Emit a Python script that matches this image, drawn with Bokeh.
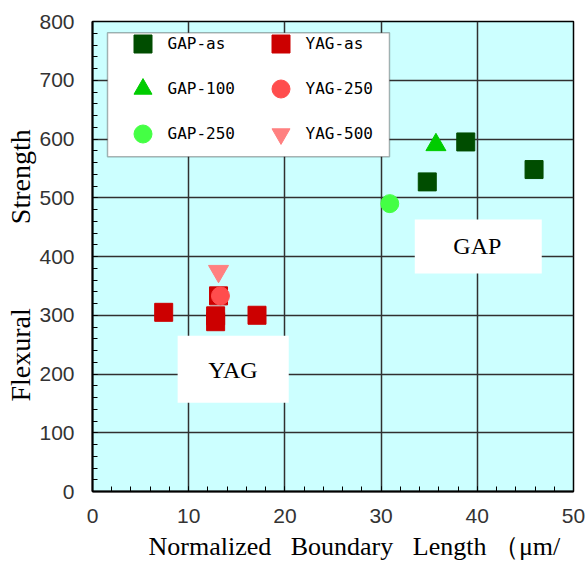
from bokeh.plotting import figure
from bokeh.models import (Range1d, BoxAnnotation, Label, Legend, LegendItem,
                          SingleIntervalTicker, Title)
from bokeh.embed import file_html
from bokeh.resources import INLINE

# ---- data ----
gap_as_x = [34.8, 38.8, 45.9]
gap_as_y = [527, 595, 548]
gap100_x = [35.7]
gap100_y = [590]
gap250_x = [30.9]
gap250_y = [490]
yag_as_x = [7.4, 12.8, 12.8, 17.1, 13.1]
yag_as_y = [305, 299, 289, 300, 333]
yag250_x = [13.3]
yag250_y = [333]
yag500_x = [13.1]
yag500_y = [375]

x_ticks = [0, 10, 20, 30, 40, 50]
y_ticks = [0, 100, 200, 300, 400, 500, 600, 700, 800]

NB = "\u00a0"
x_title = "Normalized" + NB * 3 + "Boundary" + NB * 3 + "Length" + NB + "（μm/"
y_title = "Flexural" + NB * 12 + "Strength"

p = figure(width=586, height=571, output_backend="svg", toolbar_location=None,
           x_range=Range1d(0, 50), y_range=Range1d(0, 800),
           min_border_left=92, min_border_right=13, min_border_top=21,
           min_border_bottom=80)
p.background_fill_color = "#ccffff"
p.border_fill_color = "white"
p.outline_line_color = "black"
p.outline_line_width = 1.5

for ax, tk in ((p.xaxis[0], x_ticks), (p.yaxis[0], y_ticks)):
    ax.ticker = SingleIntervalTicker(interval=tk[1] - tk[0], num_minor_ticks=5)
    ax.axis_line_color = "black"
    ax.axis_line_width = 2
    ax.major_tick_in = 5
    ax.major_tick_out = 0
    ax.minor_tick_in = 5
    ax.minor_tick_out = 0
    ax.major_tick_line_color = "black"
    ax.minor_tick_line_color = "black"
    ax.major_label_text_font = "Liberation Sans"
    ax.major_label_text_font_size = "21px"
    ax.major_label_text_color = "#333333"
p.xaxis.major_label_standoff = 17
p.yaxis.major_label_standoff = 18

p.grid.grid_line_color = "#303030"
p.grid.grid_line_width = 1.5

# ---- data glyphs ----
r_gap_as = p.scatter(gap_as_x, gap_as_y, marker="square", size=18,
                     fill_color="#004d00", line_color="#004d00")
r_gap100 = p.scatter(gap100_x, gap100_y, marker="triangle", size=20,
                     fill_color="#00cc00", line_color="#00cc00")
r_gap250 = p.scatter(gap250_x, gap250_y, marker="circle", size=18,
                     fill_color="#44ff44", line_color="#44ff44")
r_yag_as = p.scatter(yag_as_x, yag_as_y, marker="square", size=18,
                     fill_color="#cc0000", line_color="#cc0000")
r_yag250 = p.scatter(yag250_x, yag250_y, marker="circle", size=18,
                     fill_color="#ff4d4d", line_color="#ff4d4d")
r_yag500 = p.scatter(yag500_x, yag500_y, marker="inverted_triangle", size=20,
                     fill_color="#ff8080", line_color="#ff8080")

# ---- text boxes ----
p.add_layout(BoxAnnotation(left=8.85, right=20.4, bottom=151, top=265,
                           fill_color="white", fill_alpha=1, line_alpha=0))
p.add_layout(BoxAnnotation(left=33.5, right=46.7, bottom=371, top=463,
                           fill_color="white", fill_alpha=1, line_alpha=0))
p.add_layout(Label(x=14.6, y=207, text="YAG", text_font="Liberation Serif",
                   text_font_size="24px", text_align="center",
                   text_baseline="middle", text_color="black"))
p.add_layout(Label(x=40.0, y=418, text="GAP", text_font="Liberation Serif",
                   text_font_size="24px", text_align="center",
                   text_baseline="middle", text_color="black"))

# ---- legend ----
p.add_layout(BoxAnnotation(left=1.56, right=30.87, bottom=570, top=781,
                           fill_color="white", fill_alpha=1,
                           line_color="black", line_width=1.5))
legend = Legend(items=[
    LegendItem(label="GAP-as", renderers=[r_gap_as]),
    LegendItem(label="GAP-100", renderers=[r_gap100]),
    LegendItem(label="GAP-250", renderers=[r_gap250]),
    LegendItem(label="YAG-as", renderers=[r_yag_as]),
    LegendItem(label="YAG-250", renderers=[r_yag250]),
    LegendItem(label="YAG-500", renderers=[r_yag500]),
], location=(27.5, 335.5), orientation="vertical", nrows=3)
legend.margin = 0
legend.padding = 0
legend.spacing = -4
legend.glyph_width = 45
legend.glyph_height = 45
legend.label_height = 20
legend.label_width = 90
legend.label_standoff = 3
legend.label_text_font = "DejaVu Sans Mono"
legend.label_text_font_size = "16px"
legend.label_text_color = "black"
legend.background_fill_alpha = 0
legend.border_line_alpha = 0
p.add_layout(legend, "center")

# ---- axis titles ----
p.add_layout(Title(text=x_title, align="left", offset=56, standoff=9,
                   text_font="Liberation Serif", text_font_size="26px",
                   text_font_style="normal", text_color="black"), "below")
p.add_layout(Title(text=y_title, align="left", offset=90, standoff=2,
                   text_font="Liberation Serif", text_font_size="28px",
                   text_font_style="normal", text_color="black"), "left")

open("out.html", "w").write(file_html(p, INLINE))
